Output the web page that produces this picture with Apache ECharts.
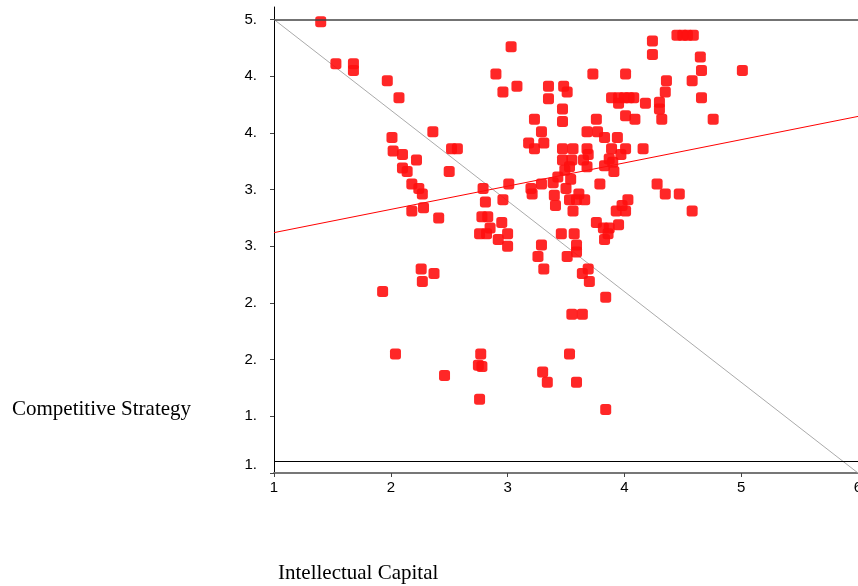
<!DOCTYPE html>
<html><head><meta charset="utf-8">
<script src="https://cdn.jsdelivr.net/npm/echarts@6/dist/echarts.min.js"></script>
<style>html,body{margin:0;padding:0;background:#fff}#c{width:858px;height:586px}</style>
</head><body><div id="c"></div>
<script>
const intellectualCapital = [
1.40,1.53,1.68,1.68,1.97,2.07,2.01,2.02,2.10,2.22,
2.36,2.10,2.14,2.50,2.18,2.24,2.27,2.28,2.18,2.41,
2.52,2.57,3.03,2.90,3.08,2.96,3.35,3.48,3.51,3.35,
3.73,3.47,3.47,3.23,3.29,3.18,3.23,3.31,3.47,3.56,
3.68,3.76,3.77,3.83,3.68,3.69,3.47,3.55,3.53,3.49,
3.65,3.68,3.43,3.54,3.39,3.29,3.01,3.50,3.79,2.79,
3.20,3.21,3.40,3.41,2.96,2.81,3.53,3.59,3.61,3.66,
3.56,2.78,2.83,4.24,4.45,4.50,4.54,4.59,4.24,4.65,
4.66,5.01,4.01,4.36,4.58,4.35,4.66,3.89,3.95,4.00,
4.04,4.08,3.95,4.18,4.30,4.30,4.01,4.09,4.32,4.76,
3.94,3.89,4.01,4.16,3.97,3.87,3.90,3.83,3.91,4.28,
4.35,4.47,4.03,3.98,3.93,4.01,4.58,2.26,2.37,2.27,
1.93,2.04,2.46,2.85,2.95,2.76,2.82,3.00,2.92,3.00,
3.76,3.82,3.87,3.83,3.46,3.57,3.29,3.26,3.59,3.59,
3.51,3.31,3.69,3.64,3.70,3.84,3.55,3.64,2.77,2.75,
2.78,3.53,3.30,3.34,3.59,2.76,3.84,3.95,3.86
];
const competitiveStrategy = [
4.98,4.61,4.61,4.55,4.46,4.31,3.96,3.84,3.81,3.76,
4.01,3.69,3.66,3.66,3.55,3.51,3.46,3.34,3.31,3.25,
3.86,3.86,4.76,4.52,4.41,4.36,4.41,4.41,4.36,4.30,
4.52,4.21,4.10,4.12,4.01,3.91,3.86,3.91,3.86,3.86,
4.01,4.12,4.01,3.96,3.86,3.81,3.76,3.76,3.70,3.67,
3.76,3.70,3.61,3.59,3.56,3.55,3.55,3.51,3.55,3.51,
3.51,3.46,3.45,3.36,3.41,3.39,3.41,3.41,3.46,3.41,
3.31,3.26,3.26,4.81,4.86,4.86,4.86,4.86,4.69,4.67,
4.55,4.55,4.52,4.46,4.46,4.36,4.31,4.31,4.31,4.31,
4.31,4.31,4.26,4.26,4.27,4.21,4.15,4.12,4.12,4.12,
3.96,3.86,3.86,3.86,3.81,3.77,3.74,3.71,3.66,3.55,
3.46,3.46,3.41,3.36,3.31,3.31,3.31,2.80,2.76,2.69,
2.60,2.05,1.86,3.16,3.21,3.11,3.11,3.11,3.06,3.00,
3.21,3.16,3.16,3.06,3.11,3.11,3.01,2.91,3.01,2.95,
2.91,2.80,2.80,2.76,2.69,2.55,2.40,2.40,2.05,1.95,
1.94,2.05,1.89,1.80,1.80,1.65,1.56,3.19,3.11
];
const yTicks = [1, 1.5, 2, 2.5, 3, 3.5, 4, 4.5, 5];
const diagonalLine = [[1, 5], [6, 1]];
const fitLine = [[1, 3.12], [6, 4.145]];
const refLineY = 1.1;
const topLineY = 5;
const xTitle = 'Intellectual Capital';
const yTitle = 'Competitive Strategy';

const points = intellectualCapital.map((x, i) => [x, competitiveStrategy[i]]);
const chart = echarts.init(document.getElementById('c'), null, {renderer: 'canvas'});
chart.setOption({
  animation: false,
  grid: {left: 274, right: 0, top: 7, bottom: 113, containLabel: false, outerBoundsMode: 'none'},
  xAxis: {
    type: 'value', min: 1, max: 6, interval: 1,
    axisLine: {lineStyle: {color: '#777', width: 2}},
    axisTick: {show: true, length: 4, lineStyle: {color: '#444'}},
    splitLine: {show: false},
    axisLabel: {color: '#000', fontFamily: '"Liberation Sans", Arial', fontSize: 15, margin: 7, showMaxLabel: true, showMinLabel: true}
  },
  yAxis: {
    type: 'value', min: 1, max: 5.11,
    axisLine: {show: true, lineStyle: {color: '#000', width: 1}},
    axisTick: {show: true, length: 4, customValues: yTicks, lineStyle: {color: '#444'}},
    splitLine: {show: false},
    axisLabel: {
      customValues: yTicks, color: '#000', fontFamily: '"Liberation Sans", Arial', fontSize: 15, margin: 17,
      formatter: v => v === 1 ? '{lo|1.}' : Math.floor(v) + '.',
      rich: {lo: {fontFamily: '"Liberation Sans", Arial', fontSize: 15, color: '#000', padding: [0, 0, 17, 0]}}
    }
  },
  graphic: [
    {type: 'text', x: 12, y: 409, style: {text: yTitle, fontFamily: '"Liberation Serif", "Times New Roman", serif', fontSize: 21, fill: '#000', verticalAlign: 'middle'}},
    {type: 'text', x: 278, y: 573, style: {text: xTitle, fontFamily: '"Liberation Serif", "Times New Roman", serif', fontSize: 21, fill: '#000', verticalAlign: 'middle'}}
  ],
  series: [
    {type: 'line', data: diagonalLine, symbol: 'none', silent: true, lineStyle: {color: '#aaa', width: 1}, z: 2},
    {type: 'line', data: fitLine, symbol: 'none', silent: true, lineStyle: {color: '#ff0000', width: 1}, z: 2},
    {
      type: 'scatter', data: points, symbol: 'roundRect', symbolSize: [11, 11], z: 3,
      itemStyle: {color: '#ff1010', opacity: 0.9},
      markLine: {
        silent: true, symbol: 'none', label: {show: false},
        data: [
          {yAxis: topLineY, lineStyle: {color: '#444', width: 1.5, type: 'solid'}},
          {yAxis: refLineY, lineStyle: {color: '#000', width: 1, type: 'solid'}}
        ]
      }
    }
  ]
});
</script></body></html>
